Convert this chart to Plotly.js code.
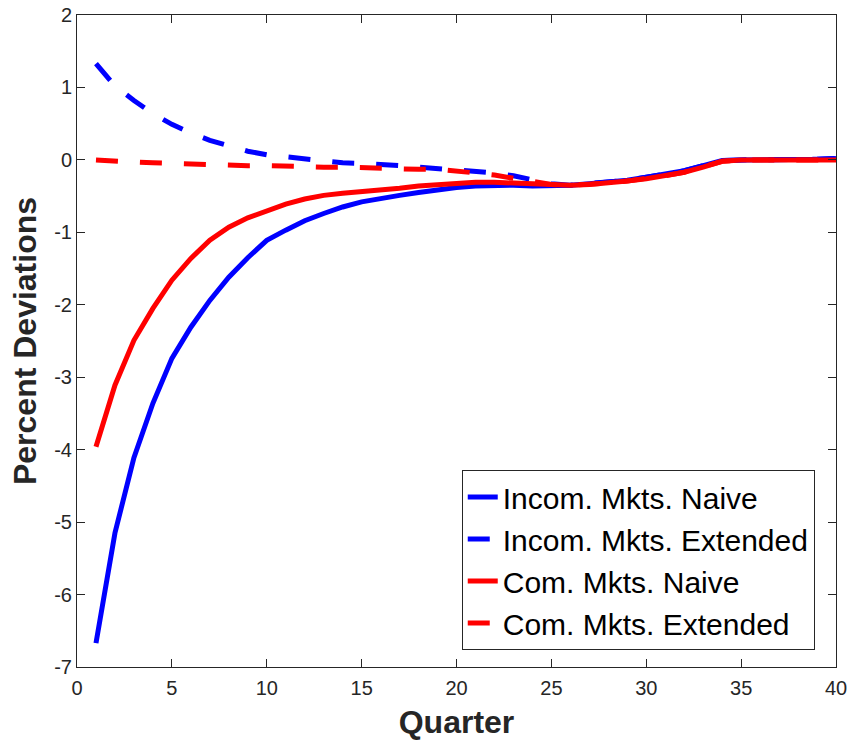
<!DOCTYPE html>
<html>
<head>
<meta charset="utf-8">
<script src="https://cdn.plot.ly/plotly-3.0.1.min.js"></script>
<style>body{margin:0;padding:0;background:#fff;}#chart{width:849px;height:740px;}</style>
</head>
<body>
<div id="chart"></div>
<script>
const quarters = Array.from({length: 40}, (_, i) => i + 1);

const incomNaive = [-6.67, -5.15, -4.11, -3.36, -2.74, -2.31, -1.94, -1.62, -1.35, -1.11,
  -0.97, -0.84, -0.74, -0.65, -0.58, -0.53, -0.49, -0.45, -0.41, -0.38,
  -0.36, -0.35, -0.35, -0.36, -0.36, -0.35, -0.33, -0.31, -0.28, -0.24,
  -0.20, -0.15, -0.08, -0.01, 0.00, 0.00, 0.01, 0.01, 0.01, 0.02];

const incomExtended = [1.33, 1.02, 0.82, 0.64, 0.49, 0.37, 0.27, 0.19, 0.12, 0.07,
  0.04, 0.01, -0.02, -0.04, -0.05, -0.06, -0.08, -0.10, -0.12, -0.13,
  -0.15, -0.18, -0.22, -0.27, -0.33, -0.35, -0.33, -0.31, -0.28, -0.24,
  -0.20, -0.15, -0.08, -0.01, 0.00, 0.00, 0.01, 0.01, 0.01, 0.02];

const comNaive = [-3.96, -3.11, -2.49, -2.05, -1.66, -1.36, -1.11, -0.93, -0.80, -0.70,
  -0.61, -0.54, -0.49, -0.46, -0.44, -0.41, -0.39, -0.36, -0.34, -0.32,
  -0.31, -0.31, -0.32, -0.34, -0.35, -0.35, -0.34, -0.32, -0.29, -0.26,
  -0.22, -0.17, -0.10, -0.02, 0.00, 0.00, 0.00, 0.00, 0.00, 0.00];

const comExtended = [0.00, -0.02, -0.03, -0.04, -0.05, -0.06, -0.06, -0.07, -0.08, -0.08,
  -0.09, -0.09, -0.10, -0.10, -0.11, -0.12, -0.12, -0.13, -0.13, -0.15,
  -0.18, -0.21, -0.25, -0.30, -0.34, -0.35, -0.34, -0.32, -0.29, -0.26,
  -0.22, -0.17, -0.10, -0.02, 0.00, 0.00, 0.00, 0.00, 0.00, 0.00];

const seriesNames = ['Incom. Mkts. Naive', 'Incom. Mkts. Extended', 'Com. Mkts. Naive', 'Com. Mkts. Extended'];

const xTickVals = [0, 5, 10, 15, 20, 25, 30, 35, 40];
const xTickText = ['0', '5', '10', '15', '20', '25', '30', '35', '40'];
const yTickVals = [-7, -6, -5, -4, -3, -2, -1, 0, 1, 2];
const yTickText = ['-7', '-6', '-5', '-4', '-3', '-2', '-1', '0', '1', '2'];

const traces = [
  {x: quarters, y: incomNaive, name: seriesNames[0], mode: 'lines', line: {color: '#0000ff', width: 5}},
  {x: quarters, y: incomExtended, name: seriesNames[1], mode: 'lines', line: {color: '#0000ff', width: 5, dash: '22px,22px'}},
  {x: quarters, y: comNaive, name: seriesNames[2], mode: 'lines', line: {color: '#ff0000', width: 5}},
  {x: quarters, y: comExtended, name: seriesNames[3], mode: 'lines', line: {color: '#ff0000', width: 5, dash: '22px,22px'}}
];

const FONT = 'Liberation Sans, Arial, sans-serif';
const axisCommon = {
  showgrid: false, zeroline: false, showline: true, mirror: 'ticks',
  linecolor: '#262626', linewidth: 1, ticks: 'inside', ticklen: 8, tickcolor: '#262626',
  tickfont: {family: FONT, size: 20, color: '#262626'}
};

const layout = {
  width: 849, height: 740,
  margin: {l: 77, r: 13, t: 15, b: 73},
  paper_bgcolor: '#fff', plot_bgcolor: '#fff',
  font: {family: FONT, color: '#262626'},
  xaxis: Object.assign({}, axisCommon, {
    range: [0, 40], tickmode: 'array', tickvals: xTickVals, ticktext: xTickText,
    ticklabelstandoff: 3,
    title: {text: 'Quarter', font: {size: 32, family: FONT, weight: 'bold', color: '#262626'}, standoff: 12}
  }),
  yaxis: Object.assign({}, axisCommon, {
    range: [-7, 2], tickmode: 'array', tickvals: yTickVals, ticktext: yTickText,
    title: {text: 'Percent Deviations', font: {size: 32, family: FONT, weight: 'bold', color: '#262626'}, standoff: 8}
  }),
  showlegend: true,
  legend: {
    x: 0.972, y: 0.026, xanchor: 'right', yanchor: 'bottom',
    bgcolor: '#fff', bordercolor: '#262626', borderwidth: 1,
    font: {size: 30, family: FONT, color: '#000'},
    tracegroupgap: 0, itemwidth: 30
  }
};

Plotly.newPlot('chart', traces, layout, {displayModeBar: false, staticPlot: true});
</script>
</body>
</html>
